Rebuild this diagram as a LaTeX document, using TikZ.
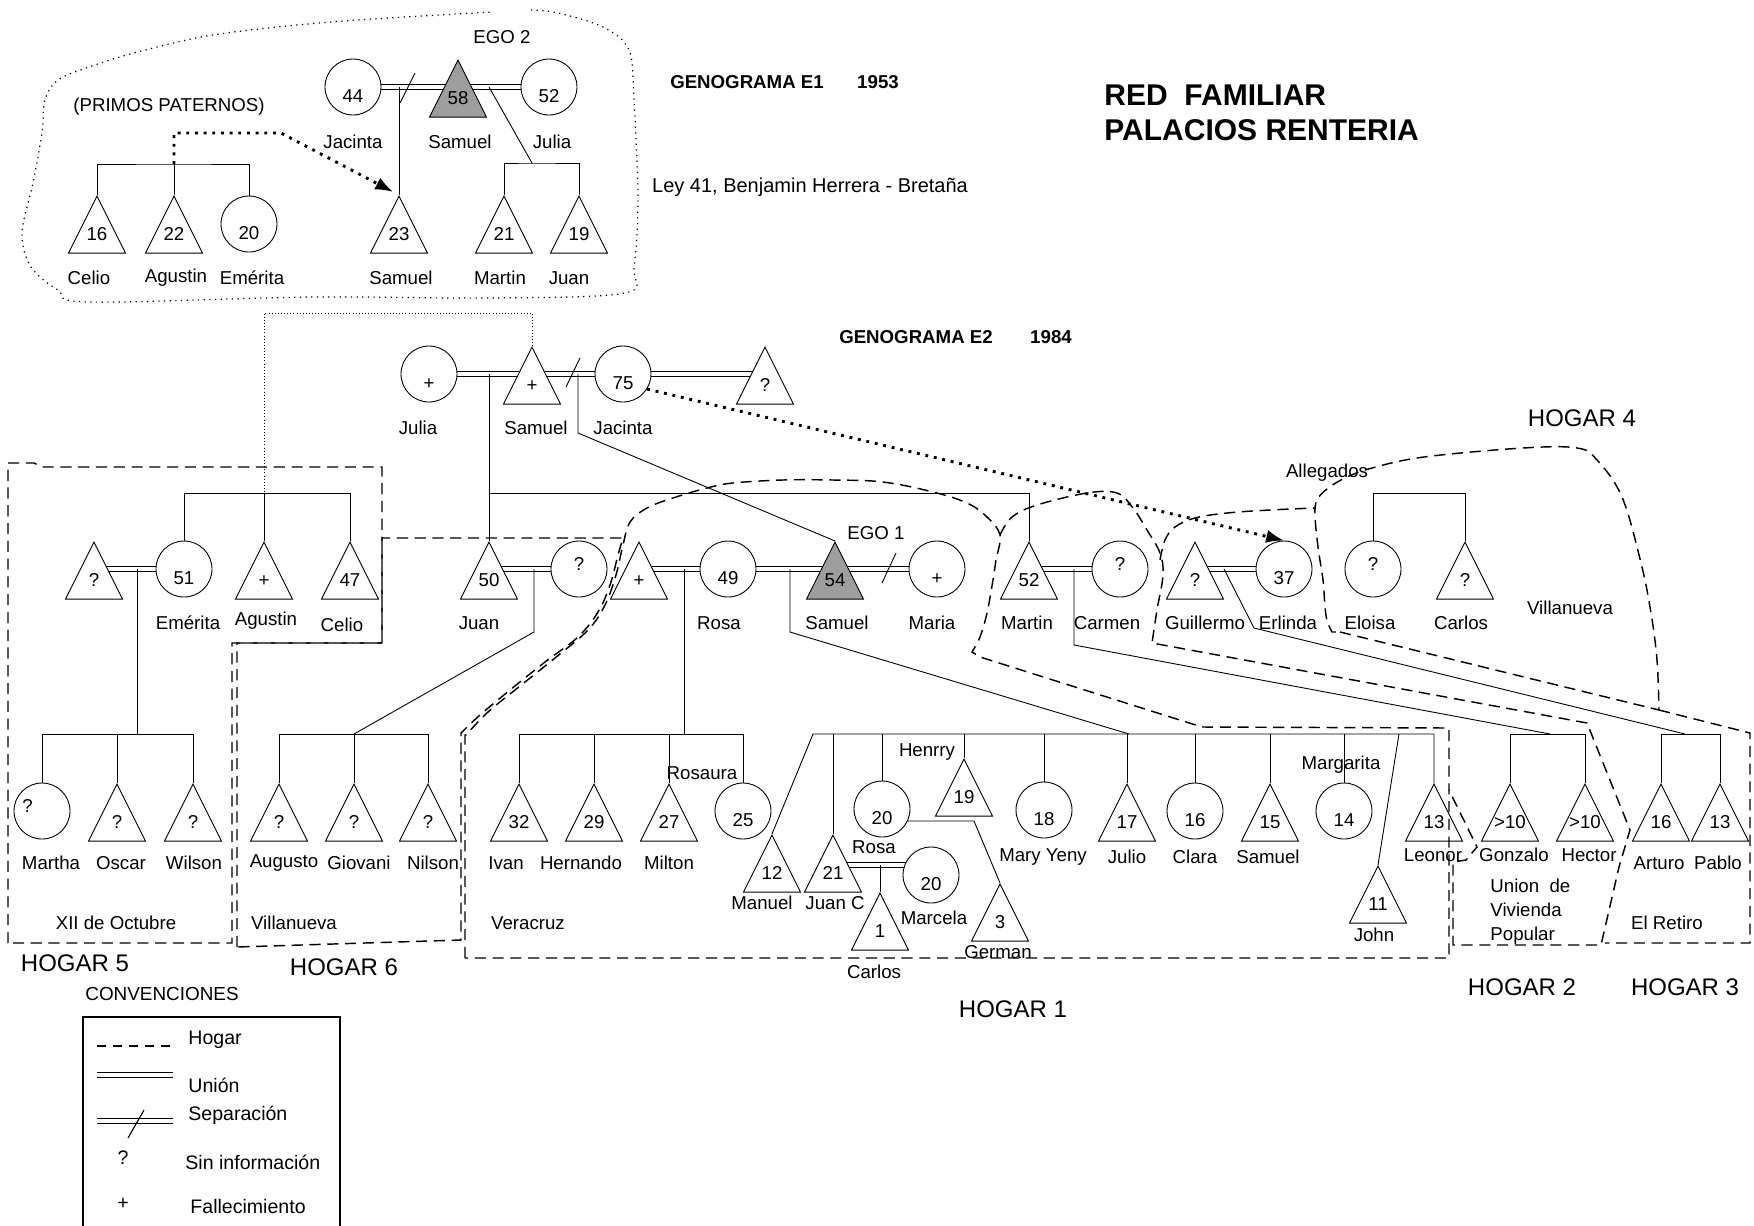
\documentclass[tikz,border=0pt]{standalone}
\usepackage{fontspec}
\setmainfont{Liberation Sans}
\usetikzlibrary{shapes.geometric,arrows.meta,backgrounds}

\newcommand{\lblfont}{\fontsize{8.4}{10.8}\selectfont}
\newcommand{\legfont}{\fontsize{8.8}{10}\selectfont}

\begin{document}
\begin{tikzpicture}[
    x=0.45pt, y=-0.45pt,
    fem/.style={draw, circle, fill=white, minimum size=25.2pt, inner sep=0pt,
        font=\lblfont, text height=14pt, text depth=0pt},
    femq/.style={fem, text height=1pt},
    male/.style={draw, fill=white, isosceles triangle, isosceles triangle stretches,
        shape border rotate=90, minimum width=25.6pt, minimum height=25.6pt,
        inner sep=0pt, anchor=apex, label={[tnum]south:#1}},
    ego/.style={male=#1, fill=black!38},
    tnum/.style={anchor=south, yshift=5.5pt, inner sep=0pt, font=\lblfont},
    lbl/.style={font=\lblfont, inner sep=0pt},
    leg/.style={font=\legfont, inner sep=0pt, anchor=west},
    big/.style={font=\fontsize{10.8}{12}\selectfont, inner sep=0pt},
    gen/.style={font=\fontsize{8.4}{10}\selectfont\bfseries, inner sep=0pt},
    ttl/.style={font=\fontsize{13.5}{15}\selectfont\bfseries, inner sep=0pt, anchor=west},
    union/.style={double, double distance=1.9pt, line width=0.45pt},
    con/.style={line width=0.5pt},
    hogar/.style={dash pattern=on 5pt off 3pt, line width=0.65pt},
    parr/.style={line width=1.3pt, dash pattern=on 1.3pt off 2.6pt,
        -{Latex[length=8pt,width=6pt]}},
    link/.style={densely dotted, line width=0.4pt},
    nube/.style={dotted, line width=0.55pt},
]
\useasboundingbox (0,0) rectangle (1754,1225);

% Genograma E1 (1953)
\node[fem] (cJacinta1) at (353,87) {44};
\node[ego=58] (tSamuel1) at (458,59) {};
\node[fem] (cJulia1) at (549,87) {52};
\node[male=23] (tSamuel23) at (399,195) {};
\node[male=21] (tMartin21) at (504,195) {};
\node[male=19] (tJuan19) at (579,195) {};
\node[male=16] (tCelio16) at (97,195) {};
\node[male=22] (tAgustin22) at (174,195) {};
\node[fem] (cEmerita20) at (249,224) {20};

\coordinate (uE1a) at (399,87);
\coordinate (uE1b) at (489,87);
\coordinate (bE1) at (532,163);
\coordinate (bPrimos) at (174,164);

\node[lbl] (nEgo2) at (502,37) {EGO 2};
\node[lbl] (nPrimos) at (169,107) {(PRIMOS PATERNOS)};
\node[lbl] (nJacinta1) at (353,142) {Jacinta};
\node[lbl] (nSamuel1) at (460,142) {Samuel};
\node[lbl] (nJulia1) at (552,142) {Julia};
\node[lbl] (nCelio1) at (89,278) {Celio};
\node[lbl] (nAgustin1) at (176,278) {Agustin};
\node[lbl] (nEmerita1) at (252,278) {Emérita};
\node[lbl] (nSamuel23) at (401,278) {Samuel};
\node[lbl] (nMartin1) at (500,278) {Martin};
\node[lbl] (nJuan1) at (569,278) {Juan};

\node[gen] (gE1) at (747,82) {GENOGRAMA E1};
\node[gen] (gE1y) at (878,82) {1953};
\node[lbl, font=\fontsize{9}{10}\selectfont] (nLey) at (810,187) {Ley 41, Benjamin Herrera - Bretaña};
\node[ttl] (tRed) at (1104,95) {RED~ FAMILIAR};
\node[ttl] (tPal) at (1104,130) {PALACIOS RENTERIA};

\draw[nube] plot[smooth, tension=0.55] coordinates {(531,10) (558,13) (603,27) (629,50)
    (634,100) (638,200) (634,267) (625,293) (491,298) (313,297) (89,302) (58,290)
    (31,267) (22,233) (33,183) (42,133) (45,100) (58,80) (89,67) (134,53) (201,37)
    (268,28) (357,20) (493,12)};

% Genograma E2 (1984)
\node[fem] (cJulia2) at (429,374) {+};
\node[male=+] (tSamuel2) at (532,346) {};
\node[fem] (cJacinta2) at (623,374) {75};
\node[male=?] (tPareja) at (765,346) {};

\node[male=?] (tEsposo) at (94,541) {};
\node[fem] (cEmerita) at (184,569) {51};
\node[male=+] (tAgustin) at (264,541) {};
\node[male=47] (tCelio) at (350,541) {};
\node[male=50] (tJuan) at (489,541) {};
\node[femq] (cEsposa) at (579,569) {?};
\node[male=+] (tRosaEsp) at (639,541) {};
\node[fem] (cRosa) at (728,569) {49};
\node[ego=54] (tSamuel) at (835,541) {};
\node[fem] (cMaria) at (937,569) {+};
\node[male=52] (tMartin) at (1029,541) {};
\node[femq] (cCarmen) at (1120,569) {?};
\node[male=?] (tGuillermo) at (1195,541) {};
\node[fem] (cErlinda) at (1284,569) {37};
\node[femq] (cEloisa) at (1373,569) {?};
\node[male=?] (tCarlos) at (1465,541) {};

\node[femq] (cMartha) at (42,811) {\makebox[0pt][l]{\hspace{-8.8pt}?}};
\node[male=?] (tOscar) at (117,783) {};
\node[male=?] (tWilson) at (193,783) {};
\node[male=?] (tAugusto) at (279,783) {};
\node[male=?] (tGiovani) at (354,783) {};
\node[male=?] (tNilson) at (428,783) {};
\node[male=32] (tIvan) at (519,783) {};
\node[male=29] (tHernando) at (594,783) {};
\node[male=27] (tMilton) at (669,783) {};
\node[fem] (cRosaura) at (743,811) {25};
\node[male=12] (tManuel) at (772,834) {};
\node[male=21] (tJuanC) at (833,834) {};
\node[fem] (cRosa20) at (882,809) {20};
\node[male=19] (tHenrry) at (964,758) {};
\node[fem] (cMaryYeny) at (1044,810) {18};
\node[male=17] (tJulio) at (1127,783) {};
\node[fem] (cClara) at (1195,811) {16};
\node[male=15] (tSamuel15) at (1270,783) {};
\node[fem] (cMargarita) at (1344,811) {14};
\node[male=11] (tJohn) at (1378,865) {};
\node[male=13] (tLeonor) at (1434,783) {};
\node[male=>10] (tGonzalo) at (1510,783) {};
\node[male=>10] (tHector) at (1585,783) {};
\node[male=16] (tArturo) at (1661,783) {};
\node[male=13] (tPablo) at (1720,783) {};
\node[fem] (cMarcela) at (931,875) {20};
\node[male=1] (tCarlosN) at (880,892) {};
\node[male=3] (tGerman) at (1000,883) {};

\coordinate (lkE1) at (264,313);
\coordinate (uJS) at (489,374);
\coordinate (uSJ) at (578,374);
\coordinate (bHijos) at (489,493);
\coordinate (bEm) at (264,493);
\coordinate (bEC) at (1419,493);
\coordinate (uEm) at (137,569);
\coordinate (uJW) at (534,569);
\coordinate (uRp) at (684,569);
\coordinate (uRS) at (790,569);
\coordinate (uMC) at (1074,569);
\coordinate (uGE) at (1224,569);
\coordinate (bMa) at (137,734);
\coordinate (bGio) at (354,734);
\coordinate (bIvan) at (684,734);
\coordinate (bRS) at (1129,734);
\coordinate (bRSi) at (813,734);
\coordinate (bJohn) at (1399,734);
\coordinate (bGH) at (1550,734);
\coordinate (bAP) at (1685,734);
\coordinate (uJM) at (880,865);
\coordinate (kGer) at (974,821);

\begin{scope}[on background layer, con]
% E1 links
\draw[union] (cJacinta1) -- (cJacinta1 -| tSamuel1.apex);
\draw[union] (tSamuel1.apex |- cJulia1) -- (cJulia1);
\draw (400,103) -- (415,73);
\draw (uE1a) -- (tSamuel23.apex);
\draw (uE1b) -- (bE1);
\draw (tMartin21.apex) |- (bE1) -| (tJuan19.apex);
\draw (tCelio16.apex) |- (bPrimos) -| (cEmerita20.north);
\draw (bPrimos) -- (tAgustin22.apex);
% E2 links
\draw[union] (cJulia2) -- (cJulia2 -| tSamuel2.apex);
\draw[union] (tSamuel2.apex |- cJacinta2) -- (cJacinta2);
\draw[union] (cJacinta2) -- (cJacinta2 -| tPareja.apex);
\draw (566,387) -- (580,358);
\draw (uJS) -- (tJuan.apex);
\draw (bHijos) -| (tMartin.apex);
\draw (uSJ) -- ++(0,59) -- (tSamuel.apex);
\draw[union] (tEsposo.apex |- cEmerita) -- (cEmerita);
\draw[union] (tJuan.apex |- cEsposa) -- (cEsposa);
\draw[union] (tRosaEsp.apex |- cRosa) -- (cRosa);
\draw[union] (cRosa) -- (cRosa -| tSamuel.apex);
\draw[union] (tSamuel.apex |- cMaria) -- (cMaria);
\draw (882,583) -- (896,553);
\draw[union] (tMartin.apex |- cCarmen) -- (cCarmen);
\draw[union] (tGuillermo.apex |- cErlinda) -- (cErlinda);
\draw (cEmerita.north) |- (bEm) -| (tCelio.apex);
\draw (bEm) -- (tAgustin.apex);
\draw (cEloisa.north) |- (bEC) -| (tCarlos.apex);
\draw (uEm) -- (bMa);
\draw (uJW) -- ++(0,63) -- (bGio);
\draw (uRp) -- (bIvan);
\draw (uRS) -- ++(0,63) -- (bRS);
\draw (uMC) -- ++(0,76) -- (bGH);
\draw (uGE) -- ++(30,59) -- (bAP);
\draw (cMartha.north) |- (bMa) -| (tWilson.apex);
\draw (tOscar.apex) -- (tOscar.apex |- bMa);
\draw (tAugusto.apex) |- (bGio) -| (tNilson.apex);
\draw (bGio) -- (tGiovani.apex);
\draw (tIvan.apex) |- (bIvan) -| (cRosaura.north);
\draw (tHernando.apex) -- (tHernando.apex |- bIvan);
\draw (tMilton.apex) -- (tMilton.apex |- bIvan);
\draw (tManuel.apex) -- (bRSi) -| (tLeonor.apex);
\foreach \h in {tJuanC.apex, cRosa20.north, tHenrry.apex, cMaryYeny.north,
    tJulio.apex, cClara.north, tSamuel15.apex, cMargarita.north}
  \draw (\h) -- (\h |- bRSi);
\draw (bJohn) -- (tJohn.apex);
\draw (tGonzalo.apex) |- (bGH) -| (tHector.apex);
\draw (tArturo.apex) |- (bAP) -| (tPablo.apex);
\draw[union] (uJM -| tJuanC.apex) -- (uJM -| cMarcela);
\draw (uJM) -- (tCarlosN.apex);
\draw (kGer -| cRosa20) -- (kGer) -- (tGerman.apex);
\draw[link] (tSamuel2.apex) |- (lkE1) -- (bEm);
\end{scope}

\draw[parr, shorten >=3pt] (bPrimos) -- ++(0,-31) -- (281,133) -- (tSamuel23.apex);
\draw[parr] (cJacinta2.-32) -- (cErlinda.north);

\node[gen] (gE2) at (916,337) {GENOGRAMA E2};
\node[gen] (gE2y) at (1051,337) {1984};
\node[lbl] (nJulia2) at (418,428) {Julia};
\node[lbl] (nSamuel2) at (536,428) {Samuel};
\node[lbl] (nJacinta2) at (623,428) {Jacinta};
\node[lbl] (nEmerita) at (188,623) {Emérita};
\node[lbl] (nAgustin) at (266,621) {Agustin};
\node[lbl] (nCelio) at (342,625) {Celio};
\node[lbl] (nJuan) at (479,623) {Juan};
\node[lbl] (nRosa) at (719,623) {Rosa};
\node[lbl] (nSamuel) at (837,623) {Samuel};
\node[lbl] (nMaria) at (932,623) {Maria};
\node[lbl] (nMartin) at (1027,623) {Martin};
\node[lbl] (nCarmen) at (1107,623) {Carmen};
\node[lbl] (nGuillermo) at (1205,623) {Guillermo};
\node[lbl] (nErlinda) at (1288,623) {Erlinda};
\node[lbl] (nEloisa) at (1370,623) {Eloisa};
\node[lbl] (nCarlos) at (1461,623) {Carlos};
\node[lbl] (nEgo1) at (876,533) {EGO 1};
\node[lbl] (nAllegados) at (1327,473) {Allegados};
\node[lbl] (nVilla4) at (1570,608) {Villanueva};

\node[lbl] (nMartha) at (51,863) {Martha};
\node[lbl] (nOscar) at (121,863) {Oscar};
\node[lbl] (nWilson) at (194,863) {Wilson};
\node[lbl] (nAugusto) at (284,863) {Augusto};
\node[lbl] (nGiovani) at (359,863) {Giovani};
\node[lbl] (nNilson) at (433,863) {Nilson};
\node[lbl] (nIvan) at (506,863) {Ivan};
\node[lbl] (nHernando) at (581,863) {Hernando};
\node[lbl] (nMilton) at (669,863) {Milton};
\node[lbl] (nRosaura) at (702,773) {Rosaura};
\node[lbl] (nManuel) at (762,903) {Manuel};
\node[lbl] (nJuanC) at (835,903) {Juan C};
\node[lbl] (nRosa20) at (874,847) {Rosa};
\node[lbl] (nHenrry) at (927,752) {Henrry};
\node[lbl] (nMaryYeny) at (1043,857) {Mary Yeny};
\node[lbl] (nJulio) at (1127,857) {Julio};
\node[lbl] (nClara) at (1195,857) {Clara};
\node[lbl] (nSamuel15) at (1268,857) {Samuel};
\node[lbl] (nMargarita) at (1341,765) {Margarita};
\node[lbl] (nJohn) at (1374,935) {John};
\node[lbl] (nLeonor) at (1433,855) {Leonor};
\node[lbl] (nGonzalo) at (1514,855) {Gonzalo};
\node[lbl] (nHector) at (1589,855) {Hector};
\node[lbl] (nArturo) at (1659,863) {Arturo};
\node[lbl] (nPablo) at (1718,863) {Pablo};
\node[lbl] (nMarcela) at (934,918) {Marcela};
\node[lbl] (nCarlosN) at (874,972) {Carlos};
\node[lbl] (nGerman) at (998,952) {German};

\node[lbl] (nOctubre) at (116,923) {XII de Octubre};
\node[lbl] (nVilla6) at (294,923) {Villanueva};
\node[lbl] (nVeracruz) at (528,923) {Veracruz};
\node[lbl, align=left, anchor=west] (nUnion) at (1490,912) {Union~ de\\Vivienda\\Popular};
\node[lbl] (nRetiro) at (1667,923) {El Retiro};

\node[big] (h1) at (1013,1009) {HOGAR 1};
\node[big] (h2) at (1522,987) {HOGAR 2};
\node[big] (h3) at (1685,987) {HOGAR 3};
\node[big] (h4) at (1582,418) {HOGAR 4};
\node[big] (h5) at (75,963) {HOGAR 5};
\node[big] (h6) at (344,967) {HOGAR 6};

% hogares
\draw[hogar] (8,943) -- (8,463) -- (34,463) -- (42,467) -- (382,467) -- (382,643)
    -- (232,643) -- (232,943) -- cycle;
\draw[hogar] (237,947) -- (237,643) -- (382,643) -- (382,538) -- (623,538)
    -- plot[smooth, tension=0.6] coordinates {(623,538) (618,555) (610,585) (598,612)
    (578,637) (545,662) (510,690) (480,715) (461,733)} -- (461,940) -- cycle;
\draw[hogar] (465,958) -- (465,735)
    -- plot[smooth, tension=0.6] coordinates {(466,735) (488,712) (520,686) (555,658)
    (588,630) (605,605) (616,575) (623,545) (630,522) (647,508) (673,498) (707,488)
    (733,483) (783,480) (833,480) (883,482) (933,492) (967,503) (987,517) (1000,535)
    (996,560) (993,580) (987,613) (980,637) (972,652)}
    -- (980,657) -- (1202,727) -- (1449,728) -- (1449,958) -- cycle;
\draw[hogar] plot[smooth, tension=0.6] coordinates {(1000,535) (1012,517) (1037,505)
    (1087,493) (1117,493) (1133,508) (1147,530) (1160,553) (1163,575) (1157,610)
    (1152,643)} -- (1587,723) -- (1630,830) -- (1619,867) -- (1601,945) -- (1453,945)
    -- (1453,862) -- (1466,860) -- (1477,847) -- (1449,790);
\draw[hogar] plot[smooth, tension=0.6] coordinates {(1160,560) (1165,540) (1175,527)
    (1195,518) (1227,513) (1270,510) (1315,508)};
\draw[hogar] (1659,710) -- (1750,733) -- (1750,943) -- (1605,943);
\draw[hogar] (1340,632) -- (1659,710)
    -- plot[smooth, tension=0.6] coordinates {(1659,710) (1657,660) (1651,613)
    (1641,563) (1622,497) (1597,460) (1577,448) (1523,448) (1424,457) (1372,468)
    (1345,478) (1327,489) (1317,500) (1315,515) (1318,547) (1323,580) (1325,607)
    (1327,622)} -- (1332,632) -- cycle;

% convenciones
\node[lbl, font=\fontsize{8.5}{10}\selectfont] (nConv) at (162,994) {CONVENCIONES};
\draw[con] (83,1240) -- (83,1017) -- (340,1017) -- (340,1240);
\coordinate (lgA) at (97,1046);
\coordinate (lgB) at (97,1075);
\coordinate (lgC) at (97,1121);
\draw[dash pattern=on 4pt off 3.2pt, line width=0.5pt] (lgA) -- ++(76,0);
\draw[union] (lgB) -- ++(76,0);
\draw[union] (lgC) -- ++(76,0);
\draw[con] (128,1138) -- (144,1110);
\node[leg] (lgHogar) at (188,1040) {Hogar};
\node[leg] (lgUnion) at (188,1085) {Unión};
\node[leg] (lgSep) at (188,1115) {Separación};
\node[lbl, font=\legfont] (lgQ) at (123,1158) {?};
\node[leg] (lgSin) at (185,1162) {Sin información};
\node[lbl, font=\legfont] (lgP) at (123,1204) {+};
\node[leg] (lgFal) at (190,1206) {Fallecimiento};
\end{tikzpicture}
\end{document}
